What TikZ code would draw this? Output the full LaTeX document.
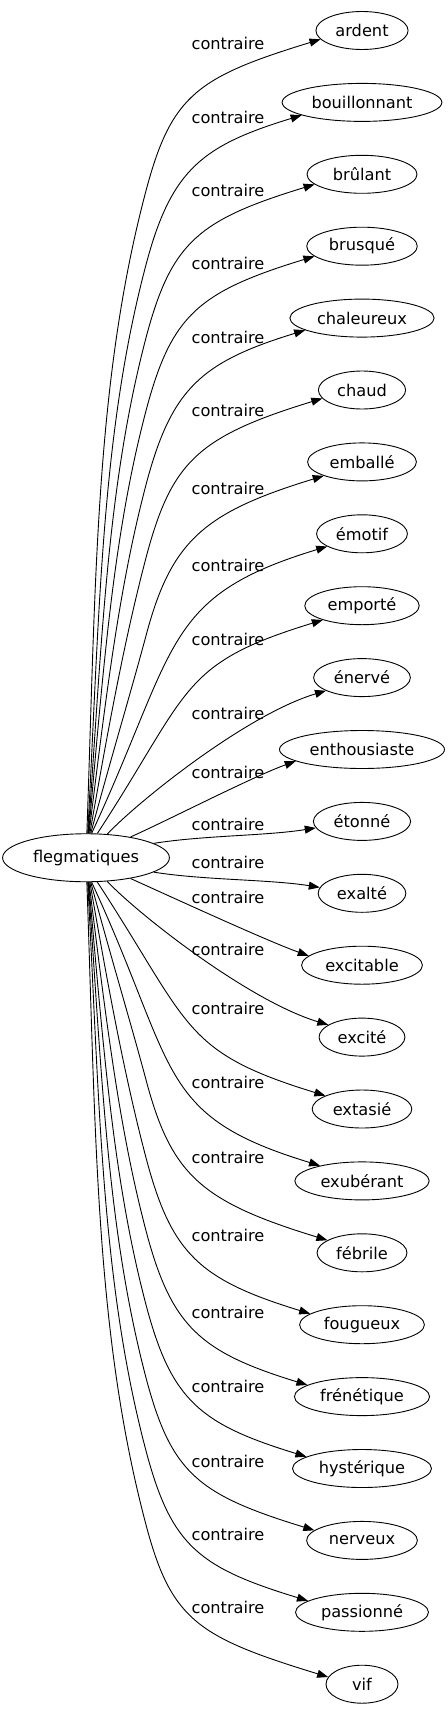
\documentclass[tikz,border=0pt]{standalone}
\usepackage{fontspec}
\setmainfont{DejaVu Sans}
\usepackage{tikz}
\usetikzlibrary{positioning,arrows.meta,shapes.geometric}

\begin{document}
\begin{tikzpicture}[
    x=1pt, y=-1pt,
    font=\fontsize{16.2pt}{19pt}\selectfont,
    term/.style={
      draw, ellipse, line width=0.9pt,
      inner xsep=6pt, inner ysep=3pt,
      minimum width=72pt, minimum height=38pt
    },
    root/.style={term, minimum height=48pt},
    rel/.style={-{Triangle[length=11pt,width=8pt]}, line width=0.9pt},
    rlabel/.style={inner sep=0pt},
  ]
    \useasboundingbox (0,0) rectangle (447,1715);

    %── source ──────────────────────────────────────────────────────────
    \node[root] (fl) at (86,857.75) {flegmatiques};

    %── targets, one column ─────────────────────────────────────────────
    \node[term] (ardent) at (362,30.5) {ardent};
    \node[term, below=33pt of ardent]       (bouillonnant) {bouillonnant};
    \node[term, below=33pt of bouillonnant, minimum width=110pt] (brulant) {brûlant};
    \node[term, below=33pt of brulant]      (brusque)      {brusqué};
    \node[term, below=33pt of brusque]      (chaleureux)   {chaleureux};
    \node[term, below=33pt of chaleureux]   (chaud)        {chaud};
    \node[term, below=33pt of chaud]        (emballe)      {emballé};
    \node[term, below=33pt of emballe]      (emotif)       {émotif};
    \node[term, below=33pt of emotif]       (emporte)      {emporté};
    \node[term, below=33pt of emporte]      (enerve)       {énervé};
    \node[term, below=33pt of enerve]       (enthousiaste) {enthousiaste};
    \node[term, below=33pt of enthousiaste] (etonne)       {étonné};
    \node[term, below=33pt of etonne]       (exalte)       {exalté};
    \node[term, below=33pt of exalte]       (excitable)    {excitable};
    \node[term, below=33pt of excitable]    (excite)       {excité};
    \node[term, below=33pt of excite]       (extasie)      {extasié};
    \node[term, below=33pt of extasie]      (exuberant)    {exubérant};
    \node[term, below=33pt of exuberant]    (febrile)      {fébrile};
    \node[term, below=33pt of febrile]      (fougueux)     {fougueux};
    \node[term, below=33pt of fougueux]     (frenetique)   {frénétique};
    \node[term, below=33pt of frenetique]   (hysterique)   {hystérique};
    \node[term, below=33pt of hysterique]   (nerveux)      {nerveux};
    \node[term, below=33pt of nerveux]      (passionne)    {passionné};
    \node[term, below=33pt of passionne]    (vif)          {vif};

    %── edge labels ─────────────────────────────────────────────────────
    \node[rlabel] (l0)  at (228,43)   {contraire};
    \node[rlabel] (l1)  at (228,117)  {contraire};
    \node[rlabel] (l2)  at (228,190)  {contraire};
    \node[rlabel] (l3)  at (228,263)  {contraire};
    \node[rlabel] (l4)  at (228,337)  {contraire};
    \node[rlabel] (l5)  at (228,410)  {contraire};
    \node[rlabel] (l6)  at (228,488)  {contraire};
    \node[rlabel] (l7)  at (228,565)  {contraire};
    \node[rlabel] (l8)  at (228,639)  {contraire};
    \node[rlabel] (l9)  at (228,713)  {contraire};
    \node[rlabel] (l10) at (228,772)  {contraire};
    \node[rlabel] (l11) at (228,824)  {contraire};
    \node[rlabel] (l12) at (228,862)  {contraire};
    \node[rlabel] (l13) at (228,897)  {contraire};
    \node[rlabel] (l14) at (228,949)  {contraire};
    \node[rlabel] (l15) at (228,1008) {contraire};
    \node[rlabel] (l16) at (228,1082) {contraire};
    \node[rlabel] (l17) at (228,1157) {contraire};
    \node[rlabel] (l18) at (228,1235) {contraire};
    \node[rlabel] (l19) at (228,1312) {contraire};
    \node[rlabel] (l20) at (228,1386) {contraire};
    \node[rlabel] (l21) at (228,1461) {contraire};
    \node[rlabel] (l22) at (228,1534) {contraire};
    \node[rlabel] (l23) at (228,1607) {contraire};

    %── edges going up ──────────────────────────────────────────────────
    \draw[rel] (fl.88) .. controls +(9,-252) and +(-52,193) .. (147,187)
      .. controls +(25,-92) and +(163:128) .. (ardent.192);
    \draw[rel] (fl.86) .. controls +(12,-223) and +(-46,171) .. (147,261)
      .. controls +(25,-92) and +(163:103) .. (bouillonnant.192);
    \draw[rel] (fl.85) .. controls +(14,-195) and +(-40,150) .. (147,334)
      .. controls +(25,-92) and +(163:121) .. (brulant.192);
    \draw[rel] (fl.84) .. controls +(15,-166) and +(-34,127) .. (147,407)
      .. controls +(25,-92) and +(163:121) .. (brusque.192);
    \draw[rel] (fl.83) .. controls +(17,-137) and +(-28,105) .. (147,481)
      .. controls +(25,-92) and +(163:109) .. (chaleureux.192);
    \draw[rel] (fl.81) .. controls +(19,-109) and +(-22,83) .. (147,554)
      .. controls +(25,-92) and +(163:130) .. (chaud.192);
    \draw[rel] (fl.79) .. controls +(21,-78) and +(-16,60) .. (147,632)
      .. controls +(25,-92) and +(163:124) .. (emballe.200);
    \draw[rel] (fl.77) .. controls +(87,-188) and +(-165,50) .. (emotif.200);
    \draw[rel] (fl.65) .. controls +(94,-144) and +(-144,44) .. (emporte.200);
    \draw[rel] (fl.48) .. controls +(30,-32) and +(-80,24) .. (enerve.200);
    \draw[rel] (fl.25) .. controls +(40,-18) and +(-42,15) .. (enthousiaste.190);
    \draw[rel] (fl.12) .. controls +(50,-8) and +(-50,8) .. (etonne.188);

    %── edges going down ────────────────────────────────────────────────
    \draw[rel] (fl.348) .. controls +(50,8) and +(-50,-8) .. (exalte.172);
    \draw[rel] (fl.335) .. controls +(40,18) and +(-42,-15) .. (excitable.170);
    \draw[rel] (fl.312) .. controls +(30,32) and +(-80,-24) .. (excite.160);
    \draw[rel] (fl.295) .. controls +(94,144) and +(-144,-44) .. (extasie.160);
    \draw[rel] (fl.283) .. controls +(87,188) and +(-165,-50) .. (exuberant.160);
    \draw[rel] (fl.281) .. controls +(21,78) and +(-16,-60) .. (147,1083.5)
      .. controls +(25,92) and +(197:131) .. (febrile.160);
    \draw[rel] (fl.279) .. controls +(19,109) and +(-22,-83) .. (147,1161.5)
      .. controls +(25,92) and +(197:116) .. (fougueux.168);
    \draw[rel] (fl.277) .. controls +(17,137) and +(-28,-105) .. (147,1234.5)
      .. controls +(25,92) and +(197:112) .. (frenetique.168);
    \draw[rel] (fl.276) .. controls +(15,166) and +(-34,-127) .. (147,1308.5)
      .. controls +(25,92) and +(197:111) .. (hysterique.168);
    \draw[rel] (fl.275) .. controls +(14,195) and +(-40,-150) .. (147,1381.5)
      .. controls +(25,92) and +(197:121) .. (nerveux.168);
    \draw[rel] (fl.274) .. controls +(12,223) and +(-46,-171) .. (147,1454.5)
      .. controls +(25,92) and +(197:113) .. (passionne.168);
    \draw[rel] (fl.272) .. controls +(9,252) and +(-52,-193) .. (147,1528.5)
      .. controls +(25,92) and +(197:135) .. (vif.168);

  \end{tikzpicture}
\end{document}
